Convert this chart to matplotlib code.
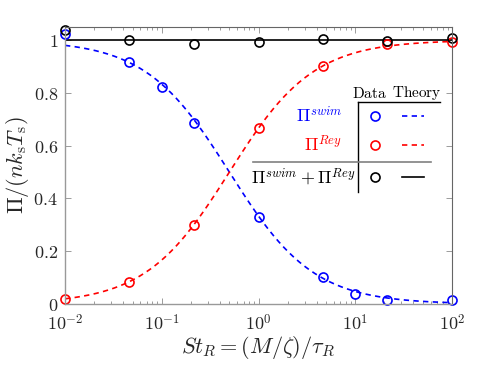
import numpy as np
import matplotlib
matplotlib.use('Agg')
import matplotlib.pyplot as plt
from matplotlib.ticker import FuncFormatter, LogLocator, NullFormatter

plt.rcParams['mathtext.fontset'] = 'cm'
plt.rcParams['font.family'] = ['DejaVu Serif']

# data
st_swim = [0.01, 0.0464, 0.1, 0.215, 1.0, 4.64, 10.0, 21.5, 100.0]
pi_swim = [1.023, 0.917, 0.822, 0.686, 0.330, 0.102, 0.038, 0.017, 0.016]

st_rey = [0.01, 0.0464, 0.215, 1.0, 4.64, 21.5, 100.0]
pi_rey = [0.020, 0.085, 0.299, 0.667, 0.903, 0.985, 0.995]

st_sum = [0.01, 0.0464, 0.215, 1.0, 4.64, 21.5, 100.0]
pi_sum = [1.040, 1.000, 0.985, 0.995, 1.005, 0.997, 1.010]

# theory: crossover at St_R = 0.5
st_c = 0.5
st_th = np.logspace(-2, 2, 300)
swim_th = 1.0 / (1.0 + st_th / st_c)
rey_th = 1.0 - swim_th

fig = plt.figure(figsize=(4.98, 3.67), dpi=100)
ax = fig.add_axes([65 / 498, 1 - 304 / 367, 387 / 498, 277 / 367])

dash = (0, (3.2, 2.6))
ax.plot(st_th, swim_th, color='#0000ff', lw=1.2, ls=dash)
ax.plot(st_th, rey_th, color='#ff0000', lw=1.2, ls=dash)
ax.plot(st_th, np.ones_like(st_th), color='black', lw=1.2)

mk = dict(marker='o', ls='none', ms=6.5, mfc='none', mew=1.2, clip_on=False)
ax.plot(st_swim, pi_swim, mec='#0000ff', **mk)
ax.plot(st_rey, pi_rey, mec='#ff0000', **mk)
ax.plot(st_sum, pi_sum, mec='black', **mk)

ax.set_xscale('log')
ax.set_xlim(0.01, 100)
ax.set_ylim(0, 1.05)
ax.set_yticks([0, 0.2, 0.4, 0.6, 0.8, 1.0])
ax.yaxis.set_major_formatter(FuncFormatter(lambda v, p: r'$%g$' % v))
ax.xaxis.set_major_locator(LogLocator(base=10, numticks=10))
ax.xaxis.set_minor_locator(LogLocator(base=10, subs=np.arange(2, 10), numticks=10))
ax.xaxis.set_minor_formatter(NullFormatter())
ax.xaxis.set_major_formatter(FuncFormatter(lambda v, p: r'$10^{%d}$' % round(np.log10(v))))

ax.tick_params(which='both', direction='in', top=True, right=True,
               labelsize=13, colors='0.55', labelcolor='#262626')
ax.tick_params(which='major', length=4.5, width=0.6)
ax.tick_params(which='minor', length=2.5, width=0.6)
ax.tick_params(axis='x', pad=7)
ax.tick_params(axis='y', pad=5)
for s in ['left', 'bottom']:
    ax.spines[s].set_color('0.6')
    ax.spines[s].set_linewidth(1.0)
for s in ['top', 'right']:
    ax.spines[s].set_color('0.4')
    ax.spines[s].set_linewidth(0.8)

ax.set_xlabel(r'$St_R = (M/\zeta)/\tau_R$', fontsize=16, labelpad=0, color='#262626')
ax.set_ylabel(r'$\Pi/(nk_\mathrm{s}T_\mathrm{s})$', fontsize=16, labelpad=2, color='#262626')


# table-style legend, positions in pixels of the figure
def px(x, y):
    return ((x - 65) / 387, (304 - y) / 277)


tr = ax.transAxes
ax.text(*px(369, 93), r'$\mathrm{Data}$', transform=tr, ha='center', va='center', fontsize=11)
ax.text(*px(417, 93), r'$\mathrm{Theory}$', transform=tr, ha='center', va='center', fontsize=11)
ax.plot(*zip(px(358, 102), px(358, 192)), transform=tr, color='black', lw=1.0, clip_on=False)
ax.plot(*zip(px(358, 102), px(440, 102)), transform=tr, color='black', lw=1.0, clip_on=False)
ax.plot(*zip(px(253, 162), px(431, 162)), transform=tr, color='0.5', lw=1.2, clip_on=False)

rows = [(116, r'$\Pi^{swim}$', '#0000ff', dash, 342),
        (145, r'$\Pi^{Rey}$', '#ff0000', dash, 342),
        (177, r'$\Pi^{swim}+\Pi^{Rey}$', 'black', '-', 355)]
for y, lab, c, ls, xr in rows:
    ax.text(*px(xr, y), lab, transform=tr, ha='right', va='center', fontsize=13, color=c)
    ax.plot(*px(375, y), transform=tr, marker='o', ms=6.5, mfc='none', mec=c, mew=1.2, clip_on=False)
    ax.plot(*zip(px(402, y), px(424, y)), transform=tr, color=c, lw=1.2, ls=ls, clip_on=False)

fig.savefig('out.png', dpi=100)
